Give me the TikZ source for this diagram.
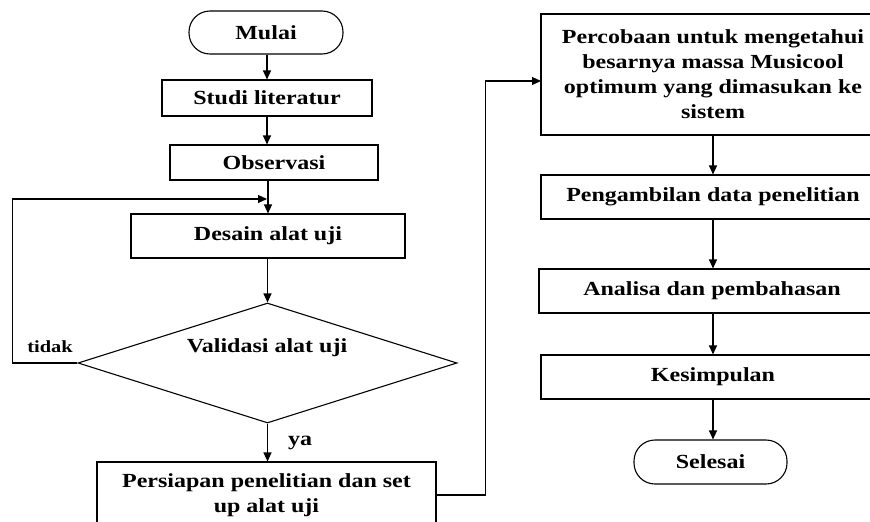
\documentclass[tikz,border=0pt]{standalone}
\usepackage{fontspec}
\setmainfont{Liberation Serif}[FakeStretch=1.2]
\usetikzlibrary{shapes.geometric,arrows.meta}
\begin{document}
\begin{tikzpicture}[x=1pt,y=-1pt,
  font=\fontsize{20}{25}\selectfont\bfseries,
  box/.style={draw, line width=1.1pt, inner sep=0pt, align=center},
  term/.style={draw, line width=1.1pt, rounded corners=21pt, inner sep=0pt},
  arr/.style={line width=1.1pt, -{Triangle[length=9pt,width=8pt]}},
  lbl/.style={inner sep=0pt}]
\useasboundingbox (0,0) rectangle (870,522);
\clip (0,0) rectangle (870,522);
% left column
\node[term, minimum width=154pt, minimum height=43pt] (mulai) at (266,32.5) {Mulai};
\node[box, minimum width=210pt, minimum height=36pt] (studi) at (267,98) {Studi literatur};
\node[box, minimum width=208pt, minimum height=35pt] (obs) at (274,162.5) {Observasi};
\node[box, minimum width=274pt, minimum height=44pt] (desain) at (268,236) {Desain alat uji};
\node[draw, diamond, line width=1.1pt, minimum width=379pt, minimum height=120pt, inner sep=0pt] (val) at (267.5,363) {};
\node[lbl] (valtext) at (267,348) {Validasi alat uji};
\node[box, minimum width=339pt, minimum height=66pt] (pers) at (266.5,495) {Persiapan penelitian dan set\\up alat uji};
\node[lbl] (tidak) at (50,347) {\fontsize{17}{20}\selectfont tidak};
\node[lbl] (ya) at (300,443) {ya};
% right column
\node[box, minimum width=344pt, minimum height=121pt] (perc) at (713,74.5) {Percobaan untuk mengetahui\\besarnya massa Musicool\\optimum yang dimasukan ke\\sistem};
\node[box, minimum width=344pt, minimum height=44pt] (ambil) at (713,197) {Pengambilan data penelitian};
\node[box, minimum width=346pt, minimum height=44pt] (anal) at (712,291) {Analisa dan pembahasan};
\node[box, minimum width=344pt, minimum height=44pt] (kes) at (713,377) {Kesimpulan};
\node[term, minimum width=153pt, minimum height=44pt] (sel) at (710.5,462) {Selesai};
% coordinates
\coordinate (loopin) at (267,199);
\coordinate (percin) at (541,81);
% connectors
\draw[arr] (mulai.south -| studi.north) -- (studi.north);
\draw[arr] (studi.south) -- (studi.south |- obs.north);
\draw[arr] (desain.north |- obs.south) -- (desain.north);
\draw[arr] (val.west) -- ++(-65,0) |- (loopin);
\draw[arr] (desain.south -| val.north) -- (val.north);
\draw[arr] (val.south) -- (val.south |- pers.north);
\draw[arr] (pers.east) -- ++(49,0) |- (percin);
\draw[arr] (perc.south) -- (ambil.north);
\draw[arr] (ambil.south) -- (ambil.south |- anal.north);
\draw[arr] (anal.south -| kes.north) -- (kes.north);
\draw[arr] (kes.south) -- (kes.south |- sel.north);
\end{tikzpicture}
\end{document}
